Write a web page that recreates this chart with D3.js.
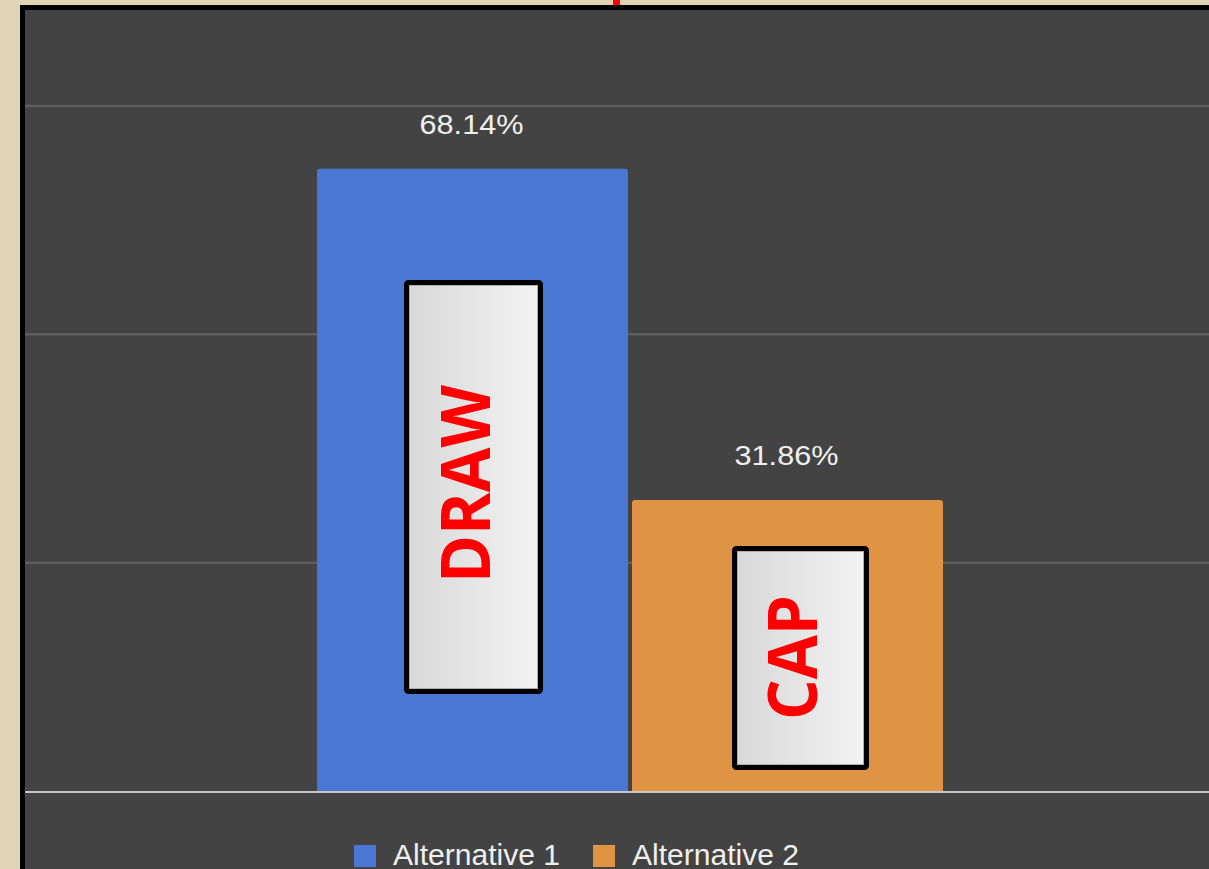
<!DOCTYPE html>
<html>
<head>
<meta charset="utf-8">
<script src="https://cdn.jsdelivr.net/npm/d3@7"></script>
<style>
  html, body { margin: 0; padding: 0; background: #e0d4b7; overflow: hidden; }
  svg { display: block; }
</style>
</head>
<body>
<svg id="chart" width="1209" height="869"></svg>
<script>
// ---- data ----
const categories = ["Alternative 1", "Alternative 2"];
const values = [68.14, 31.86];
const valueLabels = ["68.14%", "31.86%"];
const colors = ["#4a77d4", "#de9443"];
const gridTicks = [25, 50, 75];
const annotations = ["DRAW", "CAP"];

const svg = d3.select("#chart");

// gradient for annotation boxes
const defs = svg.append("defs");
const grad = defs.append("linearGradient").attr("id", "boxGrad")
  .attr("x1", "0%").attr("x2", "100%").attr("y1", "0%").attr("y2", "0%");
grad.append("stop").attr("offset", "0%").attr("stop-color", "#d8d8d8");
grad.append("stop").attr("offset", "100%").attr("stop-color", "#f3f3f3");

// background frame
svg.append("rect").attr("x", 0).attr("y", 0).attr("width", 1209).attr("height", 869).attr("fill", "#e0d4b7");
svg.append("rect").attr("x", 22.5).attr("y", 7.5).attr("width", 1300).attr("height", 1000)
  .attr("fill", "#434343").attr("stroke", "#000").attr("stroke-width", 5);

// small red remnant at top
svg.append("rect").attr("x", 613).attr("y", 0).attr("width", 7).attr("height", 5).attr("fill", "#ff0000");

// scales
const y = d3.scaleLinear().domain([0, 75]).range([791, 106]);
const x = d3.scaleBand().domain(categories).range([317, 947]).padding(0);
const gap = 4;

// gridlines
svg.append("g").selectAll("line").data(gridTicks).join("line")
  .attr("x1", 25).attr("x2", 1209)
  .attr("y1", d => y(d)).attr("y2", d => y(d))
  .attr("stroke", "#5d5d5d").attr("stroke-width", 2.5);

// bars
const data = categories.map((c, i) => ({ c, v: values[i], label: valueLabels[i], color: colors[i], ann: annotations[i] }));
svg.append("g").selectAll("path").data(data).join("path")
  .attr("d", d => {
    const x0 = x(d.c), w = x.bandwidth() - gap, y0 = y(d.v), y1 = y(0), r = 3;
    return `M${x0},${y1} L${x0},${y0 + r} Q${x0},${y0} ${x0 + r},${y0} L${x0 + w - r},${y0} Q${x0 + w},${y0} ${x0 + w},${y0 + r} L${x0 + w},${y1} Z`;
  })
  .attr("fill", d => d.color);

// baseline
svg.append("line").attr("x1", 25).attr("x2", 1209).attr("y1", y(0) + 1).attr("y2", y(0) + 1)
  .attr("stroke", "#c8c8c8").attr("stroke-width", 2);

// value labels
svg.append("g").selectAll("text").data(data).join("text")
  .attr("x", d => x(d.c) + (x.bandwidth() - gap) / 2 - 1)
  .attr("y", d => y(d.v) - 35)
  .attr("text-anchor", "middle")
  .attr("font-family", "Liberation Sans, Arial, sans-serif")
  .attr("font-size", 28)
  .attr("fill", "#f0f0f0")
  .attr("textLength", 104).attr("lengthAdjust", "spacingAndGlyphs")
  .text(d => d.label);

// annotation boxes (overlays)
const annLayout = [
  { dx: 1, top: 282.5, w: 134, h: 409, textX: 490, textCy: 484, len: 198 },
  { dx: 13, top: 548.5, w: 132, h: 219, textX: 817, textCy: 657.5, len: 125 }
];
data.forEach((d, i) => {
  const L = annLayout[i];
  const cx = x(d.c) + (x.bandwidth() - gap) / 2 + L.dx;
  const g = svg.append("g");
  g.append("rect").attr("x", cx - L.w / 2).attr("y", L.top).attr("width", L.w).attr("height", L.h)
    .attr("rx", 2).attr("fill", "url(#boxGrad)").attr("stroke", "#000").attr("stroke-width", 5);
  g.append("rect").attr("x", cx - L.w / 2 + 3).attr("y", L.top + 3).attr("width", L.w - 6).attr("height", L.h - 6)
    .attr("fill", "none").attr("stroke", "#b0b0b0").attr("stroke-width", 1);
  g.append("text")
    .attr("transform", `translate(${L.textX},${L.textCy}) rotate(-90)`)
    .attr("text-anchor", "middle")
    .attr("font-family", "Open Sans, Liberation Sans, sans-serif")
    .attr("font-weight", "bold")
    .attr("font-size", 68)
    .attr("fill", "#ff0000")
    .attr("textLength", L.len).attr("lengthAdjust", "spacingAndGlyphs")
    .text(d.ann);
});

// legend
const legendX = [354, 593];
const lg = svg.append("g");
data.forEach((d, i) => {
  lg.append("rect").attr("x", legendX[i]).attr("y", 845).attr("width", 22).attr("height", 22).attr("fill", d.color);
  lg.append("text").attr("x", legendX[i] + 39).attr("y", 865)
    .attr("font-family", "Liberation Sans, Arial, sans-serif")
    .attr("font-size", 29).attr("fill", "#f0f0f0")
    .attr("textLength", 167).attr("lengthAdjust", "spacingAndGlyphs")
    .text(d.c);
});
</script>
</body>
</html>
